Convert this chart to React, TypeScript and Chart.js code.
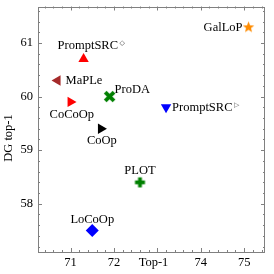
import React, { useEffect, useRef } from 'react';
import { Chart, registerables } from 'chart.js';
Chart.register(...registerables);

// ---- data ----
const methods = ['GalLoP', 'PromptSRC', 'MaPLe', 'ProDA', 'CoCoOp', 'CoOp', 'PromptSRC', 'PLOT', 'LoCoOp'];
const superscripts = ['', '\u25C7', '', '', '', '', '\u25B7', '', ''];
const top1 = [75.1, 71.3, 70.7, 71.9, 71.0, 71.7, 73.2, 72.6, 71.5];
const dgTop1 = [61.3, 60.7, 60.3, 60.0, 59.9, 59.4, 59.8, 58.4, 57.5];
const xTicks = [71, 72, 73, 74, 75];
const xTickLabels = ['71', '72', '', '74', '75'];
const yTicks = [58, 59, 60, 61];
const yTickLabels = ['58', '59', '60', '61'];
const xTitle = 'Top-1';
const yTitle = 'DG top-1';

// ---- styles ----
const colors = ['#ff8c00', '#ff0000', '#a52a2a', '#008000', '#ff0000', '#000000', '#0000ff', '#008000', '#0000ff'];
const shapes = ['star', 'tri', 'tri', 'X', 'tri', 'tri', 'tri', 'P', 'diamond'];
const rotations = [0, 0, 270, 0, 90, 90, 180, 0, 0];
// label placement: [dx, dy(cap centre), align]
const labelPos: [number, number, CanvasTextAlign][] = [
  [-6, 0, 'right'],
  [-26, -14, 'left'],
  [8, 0, 'left'],
  [5, -8, 'left'],
  [-21, 12.5, 'left'],
  [-14, 11.5, 'left'],
  [6, 0, 'left'],
  [0, -12, 'center'],
  [0, -12, 'center'],
];

const FONT = "'Liberation Serif', 'Times New Roman', serif";
const SPINE = '#808080';

function makeMarker(kind: string, color: string): HTMLCanvasElement {
  const s = 13;
  const c = document.createElement('canvas');
  c.width = s; c.height = s;
  const g = c.getContext('2d')!;
  g.fillStyle = color;
  const cx = s / 2, cy = s / 2;
  if (kind === 'star') {
    g.beginPath();
    for (let i = 0; i < 10; i++) {
      const r = i % 2 === 0 ? 6 : 2.6;
      const a = -Math.PI / 2 + (i * Math.PI) / 5;
      const px = cx + r * Math.cos(a), py = cy + 0.5 + r * Math.sin(a);
      if (i === 0) g.moveTo(px, py); else g.lineTo(px, py);
    }
    g.closePath();
    g.fill();
  } else if (kind === 'X') {
    g.translate(cx, cy);
    g.rotate(Math.PI / 4);
    g.fillRect(-6.2, -1.9, 12.4, 3.8);
    g.fillRect(-1.9, -6.2, 3.8, 12.4);
  } else if (kind === 'P') {
    g.fillRect(cx - 5, cy - 1.9, 10, 3.8);
    g.fillRect(cx - 1.9, cy - 5, 3.8, 10);
  }
  return c;
}

export default function App() {
  const ref = useRef<HTMLCanvasElement>(null);
  useEffect(() => {
    document.body.style.margin = '0';
    const canvas = ref.current!;
    const datasets = methods.map((m, i) => {
      const shape = shapes[i];
      let pointStyle: any = 'triangle';
      let radius = 6;
      if (shape === 'diamond') { pointStyle = 'rectRot'; radius = 6.5; }
      else if (shape !== 'tri') { pointStyle = makeMarker(shape, colors[i]); }
      return {
        label: m + superscripts[i],
        data: [{ x: top1[i], y: dgTop1[i] }],
        pointStyle,
        pointRadius: radius,
        pointRotation: rotations[i],
        backgroundColor: colors[i],
        borderColor: colors[i],
        borderWidth: 0,
      };
    });

    const decor = {
      id: 'decor',
      afterDraw(chart: any) {
        const ctx = chart.ctx as CanvasRenderingContext2D;
        const { left, right, top, bottom } = chart.chartArea;
        const xs = chart.scales.x, ys = chart.scales.y;
        ctx.save();
        ctx.strokeStyle = SPINE;
        ctx.lineWidth = 1;
        ctx.strokeRect(Math.round(left) + 0.5, Math.round(top) + 0.5, Math.round(right - left) - 1, Math.round(bottom - top) - 1);
        ctx.beginPath();
        for (let k = Math.ceil(xs.min * 5); k <= Math.floor(xs.max * 5); k++) {
          const px = Math.round(xs.getPixelForValue(k / 5)) + 0.5;
          const len = k % 5 === 0 ? 4 : 2;
          ctx.moveTo(px, bottom); ctx.lineTo(px, bottom - len);
          ctx.moveTo(px, top); ctx.lineTo(px, top + len);
        }
        for (let k = Math.ceil(ys.min * 5); k <= Math.floor(ys.max * 5); k++) {
          const py = Math.round(ys.getPixelForValue(k / 5)) + 0.5;
          const len = k % 5 === 0 ? 4 : 2;
          ctx.moveTo(left, py); ctx.lineTo(left + len, py);
          ctx.moveTo(right, py); ctx.lineTo(right - len, py);
        }
        ctx.stroke();

        // point labels
        ctx.fillStyle = '#000';
        ctx.textBaseline = 'alphabetic';
        methods.forEach((m, i) => {
          const px = xs.getPixelForValue(top1[i]);
          const py = ys.getPixelForValue(dgTop1[i]);
          const [dx, dy, align] = labelPos[i];
          ctx.font = `12.5px ${FONT}`;
          const w = ctx.measureText(m).width;
          let x0 = px + dx;
          if (align === 'right') x0 -= w;
          else if (align === 'center') x0 -= w / 2;
          const base = py + dy + 4;
          ctx.textAlign = 'left';
          ctx.fillText(m, x0, base);
          if (superscripts[i]) {
            ctx.font = `7px 'DejaVu Sans', sans-serif`;
            ctx.fillStyle = '#555';
            ctx.fillText(superscripts[i], x0 + w + 1.5, base - 4);
            ctx.fillStyle = '#000';
          }
        });

        // axis titles
        ctx.font = `12.5px ${FONT}`;
        ctx.textAlign = 'center';
        ctx.textBaseline = 'middle';
        ctx.fillText(xTitle, 153.5, 262.5);
        ctx.translate(9, 138);
        ctx.rotate(-Math.PI / 2);
        ctx.fillText(yTitle, 0, 0);
        ctx.restore();
      },
    };

    const chart = new Chart(canvas, {
      type: 'scatter',
      data: { datasets },
      options: {
        animation: false,
        responsive: false,
        maintainAspectRatio: false,
        layout: { padding: { top: 5, right: 9, left: 0, bottom: 0 } },
        plugins: { legend: { display: false }, tooltip: { enabled: false } },
        scales: {
          x: {
            type: 'linear',
            min: 70.25,
            max: 75.48,
            afterFit: (s: any) => { s.height = 22; s.paddingLeft = 0; s.paddingRight = 0; },
            afterBuildTicks: (s: any) => { s.ticks = xTicks.map((v) => ({ value: v })); },
            grid: { display: false, drawTicks: false },
            border: { display: false },
            ticks: {
              autoSkip: false,
              maxRotation: 0,
              padding: 3,
              color: '#000',
              font: { family: FONT, size: 12.5 },
              callback: (v: any) => xTickLabels[xTicks.indexOf(Number(v))] ?? '',
            },
          },
          y: {
            type: 'linear',
            min: 57.1,
            max: 61.68,
            afterFit: (s: any) => { s.width = 38; s.paddingTop = 0; s.paddingBottom = 0; },
            afterBuildTicks: (s: any) => { s.ticks = yTicks.map((v) => ({ value: v })); },
            grid: { display: false, drawTicks: false },
            border: { display: false },
            ticks: {
              autoSkip: false,
              padding: 5,
              color: '#000',
              font: { family: FONT, size: 12.5 },
              callback: (v: any) => yTickLabels[yTicks.indexOf(Number(v))] ?? '',
            },
          },
        },
      },
      plugins: [decor],
    });
    return () => chart.destroy();
  }, []);
  return (
    <div style={{ width: 274, height: 274 }}>
      <canvas ref={ref} width={274} height={274} style={{ width: 274, height: 274, display: 'block' }} />
    </div>
  );
}
